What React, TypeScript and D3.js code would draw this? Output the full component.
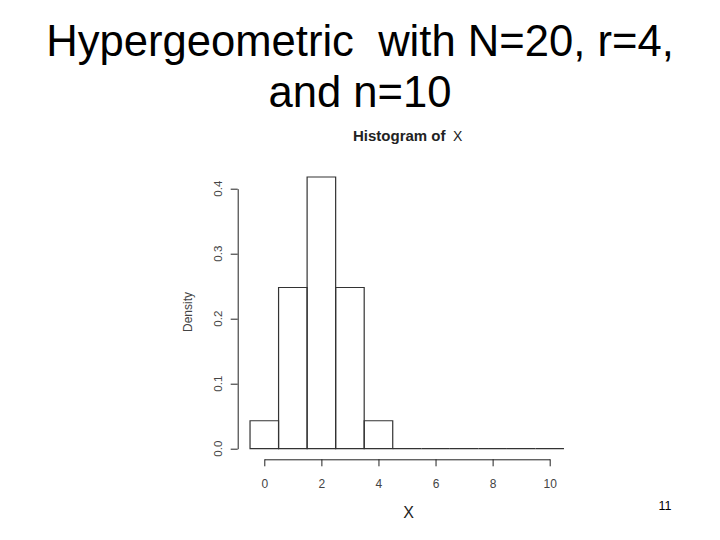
import React from "react";
import * as d3 from "d3";

const outcomes = [0, 1, 2, 3, 4, 5, 6, 7, 8, 9, 10];
const density = [0.043, 0.248, 0.418, 0.248, 0.043, 0, 0, 0, 0, 0, 0];
const xTicks = [0, 2, 4, 6, 8, 10];
const yTicks = [0, 0.1, 0.2, 0.3, 0.4];
const titleLines = ["Hypergeometric  with N=20, r=4,", "and n=10"];

export default function App() {
  const svgWidth = 720;
  const svgHeight = 540;
  const font = "'Liberation Sans', Arial, sans-serif";

  const svgRef = React.useRef<SVGSVGElement>(null);

  const xScale = d3.scaleLinear().domain([0, 10]).range([264.3, 549.7]);
  const yScale = d3.scaleLinear().domain([0, 0.4]).range([448.7, 188.7]);
  const fmt = d3.format(".1f");

  React.useEffect(() => {
    const svg = d3.select(svgRef.current);

    const xAxis = d3
      .axisBottom(xScale)
      .tickValues(xTicks)
      .tickSize(7)
      .tickPadding(13)
      .tickSizeOuter(0)
      .tickFormat((d) => String(d));
    svg
      .select<SVGGElement>(".x-axis")
      .attr("transform", "translate(0,459.3)")
      .call(xAxis)
      .call((g) => g.selectAll("line, path").attr("stroke", "#222"))
      .selectAll("text")
      .style("font-size", "12px")
      .style("font-family", font)
      .style("fill", "#444");

    const yAxis = d3
      .axisLeft(yScale)
      .tickValues(yTicks)
      .tickSize(7)
      .tickSizeOuter(0)
      .tickFormat(() => "");
    svg
      .select<SVGGElement>(".y-axis")
      .attr("transform", "translate(237.7,0)")
      .call(yAxis)
      .call((g) => g.selectAll("line, path").attr("stroke", "#222"));

    svg
      .select(".bars")
      .selectAll("path")
      .data(outcomes)
      .join("path")
      .attr("d", (k, i) => {
        const p = d3.path();
        const x0 = xScale(k - 0.5);
        const x1 = xScale(k + 0.5);
        p.rect(x0, yScale(density[i]), x1 - x0, yScale(0) - yScale(density[i]));
        return p.toString();
      })
      .attr("fill", "none")
      .attr("stroke", "#333")
      .attr("stroke-width", 1.2);
  }, []);

  return (
    <svg
      width={svgWidth}
      height={svgHeight}
      ref={svgRef}
      style={{ position: "absolute", left: 0, top: 0, background: "#fff" }}
    >
      {titleLines.map((t, i) => (
        <text
          key={i}
          x={360}
          y={56 + i * 51}
          textAnchor="middle"
          fontFamily={font}
          fontSize={43.6}
          fill="#000"
          style={{ whiteSpace: "pre" }}
        >
          {t}
        </text>
      ))}
      <text x={353} y={141} fontFamily={font} fontSize={15} fill="#222">
        <tspan fontWeight="bold">Histogram of</tspan>
        <tspan x={453} fontSize={14}>X</tspan>
      </text>
      <text
        transform="translate(192,312) rotate(-90)"
        textAnchor="middle"
        fontFamily={font}
        fontSize={12}
        fill="#444"
      >
        Density
      </text>
      {yTicks.map((t) => (
        <text
          key={t}
          transform={`translate(222,${yScale(t)}) rotate(-90)`}
          textAnchor="middle"
          fontFamily={font}
          fontSize={11.5}
          fill="#444"
        >
          {fmt(t)}
        </text>
      ))}
      <text x={408.5} y={518} textAnchor="middle" fontFamily={font} fontSize={16} fill="#222">
        X
      </text>
      <g className="bars" />
      <g className="x-axis" />
      <g className="y-axis" />
      <text x={665} y={510} textAnchor="middle" fontFamily={font} fontSize={12.5} fill="#000">
        11
      </text>
    </svg>
  );
}
